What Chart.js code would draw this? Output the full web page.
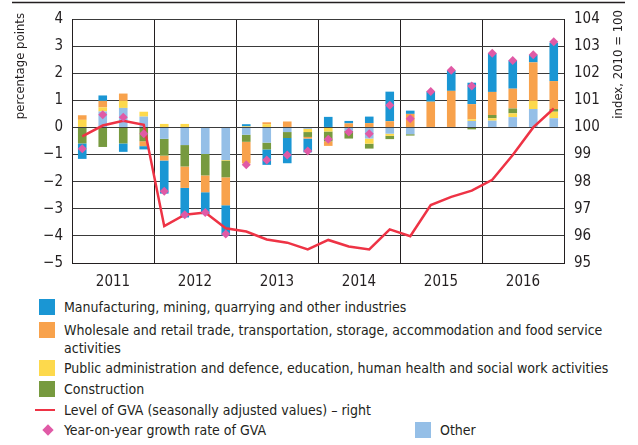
<!DOCTYPE html>
<html>
<head>
<meta charset="utf-8">
<script src="https://cdn.jsdelivr.net/npm/chart.js@4"></script>
<style>
  body { margin: 0; background: #fff; }
  #wrap { position: relative; width: 638px; height: 445px; font-family: "DejaVu Sans Condensed", "Liberation Sans", sans-serif; color: #231f20; }
  canvas { position: absolute; left: 0; top: 0; }
  .lg { position: absolute; font-size: 14px; line-height: 18px; white-space: nowrap; }
  .sw { position: absolute; width: 16px; height: 16px; }
</style>
</head>
<body>
<div id="wrap">
  <canvas id="c" width="638" height="290"></canvas>
  <div class="sw" style="left:39px;top:299px;background:#1a96d4"></div>
  <div class="lg" style="left:64px;top:298px">Manufacturing, mining, quarrying and other industries</div>
  <div class="sw" style="left:39px;top:322px;background:#f8a24c"></div>
  <div class="lg" style="left:64px;top:321px">Wholesale and retail trade, transportation, storage, accommodation and food service<br>activities</div>
  <div class="sw" style="left:39px;top:360px;background:#fdd94c"></div>
  <div class="lg" style="left:64px;top:359px">Public administration and defence, education, human health and social work activities</div>
  <div class="sw" style="left:39px;top:381px;background:#779a3f"></div>
  <div class="lg" style="left:64px;top:380px">Construction</div>
  <div style="position:absolute;left:35px;top:409px;width:20px;height:2px;background:#ee3345"></div>
  <div class="lg" style="left:64px;top:401px">Level of GVA (seasonally adjusted values) – right</div>
  <div style="position:absolute;left:44px;top:426px;width:8px;height:8px;background:#e05aa6;transform:rotate(45deg)"></div>
  <div class="lg" style="left:64px;top:421px">Year-on-year growth rate of GVA</div>
  <div class="sw" style="left:415px;top:422px;background:#95bfe7"></div>
  <div class="lg" style="left:440px;top:421px">Other</div>
</div>
<script>
const years = ['2011', '2012', '2013', '2014', '2015', '2016'];
const quarters = [];
years.forEach(y => { for (let q = 1; q <= 4; q++) quarters.push(y + ' Q' + q); });

// contributions, percentage points
const other = [0, 0.59, 0.72, 0.4, -0.42, -0.65, -0.98, -1.2, -0.27, -0.56, -0.17, -0.05,
  0, -0.12, -0.41, -0.23, -0.25, 0, 0, 0.24, 0.25, 0.38, 0.68, 0.34];
const publicAdmin = [0.28, 0.15, 0.26, 0.18, 0.13, 0.13, 0, -0.02, 0.04, 0.12, 0, -0.12,
  -0.15, 0, -0.19, -0.08, 0, 0, 0, 0.06, 0.09, 0.14, 0.3, 0.24];
const construction = [-0.59, -0.72, -0.59, -0.51, -0.62, -0.79, -0.79, -0.62, -0.26, -0.25, -0.22, -0.18,
  -0.36, -0.29, -0.18, -0.12, -0.05, 0, 0, -0.07, 0.12, 0.18, 0, 0.1];
const wholesale = [0.17, 0.24, 0.27, -0.18, -0.18, -0.79, -0.62, -1.03, -0.8, 0.07, 0.22, -0.06,
  -0.17, 0.15, 0.16, 0.23, 0.5, 0.95, 1.35, 0.56, 0.85, 0.73, 1.42, 1.03];
const manufacturing = [-0.57, 0.2, -0.31, -0.12, -1.22, -1.09, -0.81, -1.12, 0.08, -0.57, -0.93, -0.51,
  0.39, 0.09, 0.24, 1.09, 0.12, 0.38, 0.76, 0.79, 1.43, 1.04, 0.28, 1.42];
const yoyGrowth = [-0.79, 0.47, 0.38, -0.23, -2.35, -3.22, -3.14, -3.93, -1.38, -1.2, -1.02, -0.87,
  -0.44, -0.17, -0.23, 0.82, 0.32, 1.33, 2.11, 1.53, 2.74, 2.47, 2.68, 3.16];
// level of GVA, index 2010 = 100
const gvaLevel = [99.67, 100.07, 100.25, 100.1, 96.36, 96.78, 96.86, 96.28, 96.16, 95.87, 95.75, 95.5,
  95.85, 95.61, 95.5, 96.24, 95.99, 97.14, 97.44, 97.67, 98.07, 98.98, 100.0, 100.7];

const FONT = '"DejaVu Sans Condensed", "Liberation Sans", sans-serif';
const minus = v => String(v).replace('-', '\u2212');

function barSet(label, data, color) {
  return { type: 'bar', label, data, backgroundColor: color, borderWidth: 0, stack: 'gva', order: 2,
    barPercentage: 0.42, categoryPercentage: 1 };
}

const extras = {
  id: 'extras',
  afterDraw(chart) {
    const c = chart.ctx;
    c.save();
    c.strokeStyle = '#231f20';
    c.lineWidth = 1.5;
    c.beginPath(); c.moveTo(12, 2.5); c.lineTo(625, 2.5); c.stroke();
    c.fillStyle = '#231f20';
    c.font = '13px ' + FONT;
    c.textBaseline = 'middle';
    c.textAlign = 'right';
    c.translate(21, 13); c.rotate(-Math.PI / 2);
    c.fillText('percentage points', 0, 0);
    c.restore();
    c.save();
    c.fillStyle = '#231f20';
    c.font = '13px ' + FONT;
    c.textBaseline = 'middle';
    c.textAlign = 'right';
    c.translate(619, 10); c.rotate(-Math.PI / 2);
    c.fillText('index, 2010 = 100', 0, 0);
    c.restore();
  }
};

new Chart(document.getElementById('c'), {
  type: 'bar',
  data: {
    labels: quarters,
    datasets: [
      { type: 'line', label: 'Year-on-year growth rate of GVA', data: yoyGrowth, yAxisID: 'y', stack: 'yoy',
        showLine: false, pointStyle: 'rectRot', pointRadius: 4.5, backgroundColor: '#e05aa6',
        borderColor: '#e05aa6', borderWidth: 0, order: 0 },
      { type: 'line', label: 'Level of GVA (seasonally adjusted values) – right', data: gvaLevel, yAxisID: 'y2',
        borderColor: '#ee3345', borderWidth: 2.5, pointRadius: 0, tension: 0, order: 1 },
      barSet('Other', other, '#95bfe7'),
      barSet('Public administration and defence, education, human health and social work activities', publicAdmin, '#fdd94c'),
      barSet('Construction', construction, '#779a3f'),
      barSet('Wholesale and retail trade, transportation, storage, accommodation and food service activities', wholesale, '#f8a24c'),
      barSet('Manufacturing, mining, quarrying and other industries', manufacturing, '#1a96d4')
    ]
  },
  options: {
    responsive: false,
    animation: false,
    layout: { padding: { top: 15, left: 0, right: 0, bottom: 0 } },
    plugins: { legend: { display: false }, tooltip: { enabled: false } },
    scales: {
      x: { type: 'category', display: false, stacked: true, offset: true },
      xYears: {
        type: 'category', position: 'bottom', labels: years, offset: true,
        grid: { offset: true, color: '#231f20', lineWidth: 1, drawTicks: false },
        border: { color: '#231f20' },
        ticks: { color: '#231f20', padding: 10, font: { family: FONT, size: 15 } },
        afterFit: s => { s.height = 27; }
      },
      y: {
        position: 'left', stacked: true, min: -5, max: 4,
        ticks: { stepSize: 1, color: '#231f20', padding: 9, font: { family: FONT, size: 15 }, callback: v => minus(v) },
        grid: { color: '#3a3a3a', lineWidth: 1, drawTicks: false },
        border: { color: '#231f20' },
        afterFit: s => { s.width = 72; }
      },
      y2: {
        position: 'right', min: 95, max: 104,
        ticks: { stepSize: 1, color: '#231f20', padding: 10, font: { family: FONT, size: 15 } },
        grid: { drawOnChartArea: false, drawTicks: false },
        border: { color: '#231f20' },
        afterFit: s => { s.width = 74; }
      }
    }
  },
  plugins: [extras]
});
</script>
</body>
</html>
